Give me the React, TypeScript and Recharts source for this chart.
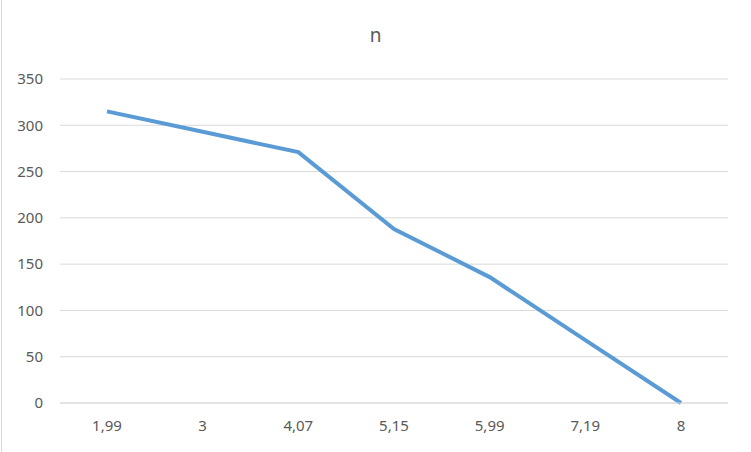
import React from 'react';
import { LineChart, Line, XAxis, YAxis, CartesianGrid } from 'recharts';

const categories = ['1,99', '3', '4,07', '5,15', '5,99', '7,19', '8'];
const nValues = [315, 293, 271, 188, 136, 68, 0];
const yTicks = [0, 50, 100, 150, 200, 250, 300, 350];

const data = categories.map((x, i) => ({ x, n: nValues[i] }));

const font = '"Noto Sans", "Open Sans", sans-serif';

const App: React.FC = () => {
  return (
    <div
      style={{
        position: 'absolute',
        left: 0,
        top: 0,
        width: 751,
        height: 452,
        background: '#fff',
        fontFamily: font,
      }}
    >
      <div style={{ position: 'absolute', left: 1, top: 0, width: 1, height: 452, background: '#d9d9d9' }} />
      <div
        style={{
          position: 'absolute',
          left: 0,
          width: 751,
          top: 22,
          textAlign: 'center',
          fontSize: 19,
          color: '#595959',
        }}
      >
        n
      </div>
      <LineChart width={751} height={452} data={data} margin={{ top: 79, right: 23, bottom: 19, left: 0 }}>
        <CartesianGrid vertical={false} stroke="#d9d9d9" />
        <XAxis
          dataKey="x"
          axisLine={{ stroke: '#d9d9d9' }}
          tickLine={false}
          tickSize={0}
          tickMargin={17}
          height={30}
          padding={{ left: 47, right: 47 }}
          tick={{ fill: '#595959', fontSize: 15, fontFamily: font }}
        />
        <YAxis
          domain={[0, 350]}
          ticks={yTicks}
          width={60}
          axisLine={false}
          tickLine={false}
          tickSize={0}
          tickMargin={17}
          tick={{ fill: '#595959', fontSize: 15, fontFamily: font }}
        />
        <Line
          type="linear"
          dataKey="n"
          stroke="#5b9bd5"
          strokeWidth={4}
          dot={false}
          isAnimationActive={false}
        />
      </LineChart>
    </div>
  );
};

export default App;
